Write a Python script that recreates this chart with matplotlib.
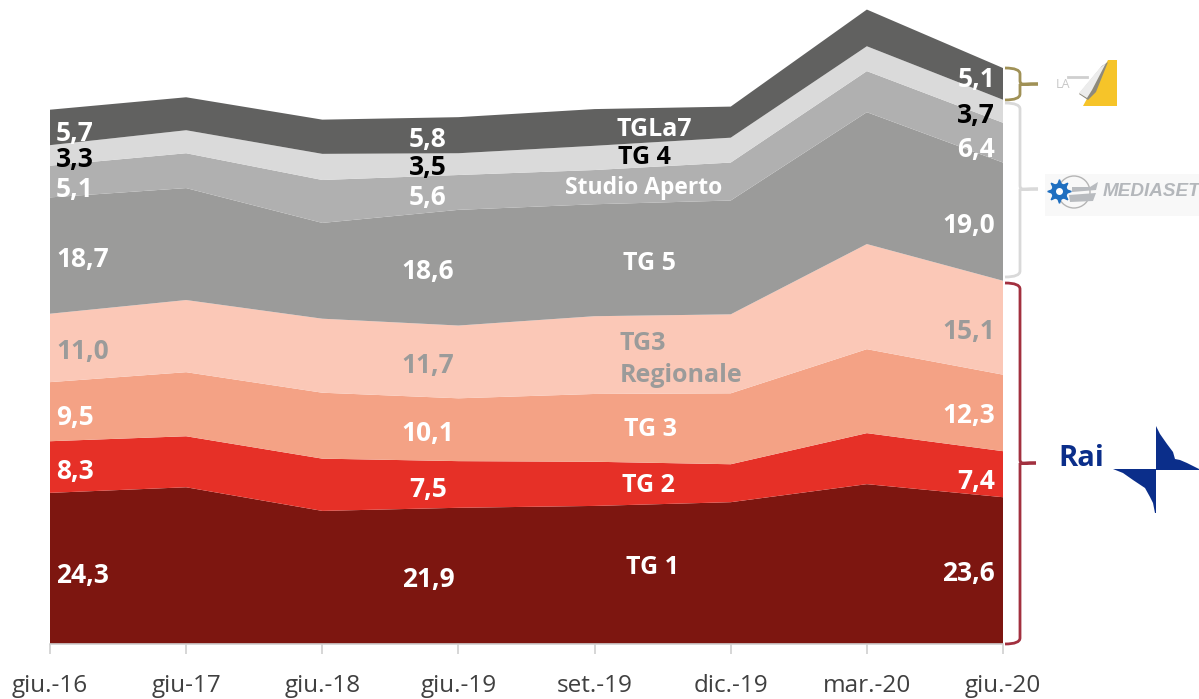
import matplotlib
matplotlib.use('Agg')
import matplotlib.pyplot as plt
from matplotlib.patches import Polygon, PathPatch, Circle, Rectangle
from matplotlib.path import Path

plt.rcParams['font.family'] = ['Open Sans', 'DejaVu Sans']

periodi = ['giu.-16', 'giu-17', 'giu.-18', 'giu.-19', 'set.-19', 'dic.-19', 'mar.-20', 'giu.-20']

tg1 = [24.3, 25.2, 21.4, 21.9, 22.2, 22.8, 25.7, 23.6]
tg2 = [8.3, 8.2, 8.4, 7.5, 7.1, 6.1, 8.2, 7.4]
tg3 = [9.5, 10.3, 10.6, 10.1, 10.9, 11.4, 13.5, 12.3]
tg3_reg = [11.0, 11.6, 11.9, 11.7, 12.5, 12.7, 16.9, 15.1]
tg5 = [18.7, 18.0, 15.4, 18.6, 18.0, 18.3, 21.2, 19.0]
studio_aperto = [5.1, 5.6, 6.9, 5.6, 5.5, 6.1, 6.6, 6.4]
tg4 = [3.3, 3.7, 4.2, 3.5, 3.9, 4.0, 4.0, 3.7]
tgla7 = [5.7, 5.3, 5.5, 5.8, 5.9, 5.0, 5.9, 5.1]

colori = ['#7d1610', '#e63027', '#f4a285', '#fbc8b7', '#9b9b9a', '#b0b0b0', '#dadada', '#616160']

W, H = 1199, 699
fig = plt.figure(figsize=(W / 100, H / 100), dpi=100)

# Area chart: the axes box is placed on the plot area of the picture
x0, x1, base = 50, 1003, 644
ax = fig.add_axes([x0 / W, (H - base) / H, (x1 - x0) / W, base / H])
ax.stackplot(range(len(periodi)), tg1, tg2, tg3, tg3_reg, tg5, studio_aperto, tg4, tgla7,
             colors=colori, linewidth=0)
ax.set_xlim(0, len(periodi) - 1)
ax.set_ylim(0, base / 6.22)
ax.patch.set_visible(False)
for s in ['top', 'left', 'right']:
    ax.spines[s].set_visible(False)
ax.spines['bottom'].set_color('#d0d0d0')
ax.spines['bottom'].set_linewidth(1.2)
ax.set_yticks([])
ax.set_xticks(range(len(periodi)))
ax.set_xticklabels(periodi, fontsize=17.5, color='#404040')
ax.tick_params(axis='x', length=7.5, width=1.2, color='#d0d0d0', pad=14)

# Overlay in pixel coordinates for labels, braces and logos
ov = fig.add_axes([0, 0, 1, 1])
ov.set_xlim(0, W)
ov.set_ylim(H, 0)
ov.axis('off')
ov.patch.set_visible(False)


def scritta(x, y, s, colore='white', ha='center', size=19):
    ov.text(x, y, s, color=colore, ha=ha, va='center', fontsize=size, fontweight='bold')


# Left column
for y, s, c in [(133, '5,7', 'white'), (160, '3,3', 'black'), (189, '5,1', 'white'),
                (259, '18,7', 'white'), (351, '11,0', '#9b9b9a'), (418, '9,5', 'white'),
                (472, '8,3', 'white'), (576, '24,3', 'white')]:
    scritta(56, y, s, c, ha='left')

# giu.-19 column
for y, s, c in [(139, '5,8', 'white'), (167, '3,5', 'black'), (197, '5,6', 'white'),
                (272, '18,6', 'white'), (365, '11,7', '#9b9b9a'), (433, '10,1', 'white'),
                (489, '7,5', 'white'), (580, '21,9', 'white')]:
    scritta(428, y, s, c)

# Right column
for y, s, c in [(79, '5,1', 'white'), (116, '3,7', 'black'), (149, '6,4', 'white'),
                (226, '19,0', 'white'), (332, '15,1', '#9b9b9a'), (416, '12,3', 'white'),
                (482, '7,4', 'white'), (574, '23,6', 'white')]:
    scritta(995, y, s, c, ha='right')

# Series names
scritta(654, 129, 'TGLa7', size=18)
scritta(644, 158, 'TG 4', 'black', size=18)
scritta(644, 188, 'Studio Aperto', size=16.5)
scritta(649, 264, 'TG 5', size=18)
scritta(620, 344, 'TG3', '#9b9b9a', ha='left', size=18)
scritta(620, 376, 'Regionale', '#9b9b9a', ha='left', size=18)
scritta(651, 430, 'TG 3', size=18)
scritta(648, 486, 'TG 2', size=18)
scritta(653, 568, 'TG 1', size=18)


def graffa(y_top, y_bot, y_tip, x_tip, colore):
    xl, xm, r = 1005, 1020, 6
    verts = [(xl, y_top), (xm, y_top), (xm, y_top + r),
             (xm, y_tip - 3), (xm, y_tip - 1), (xm + 2, y_tip), (x_tip, y_tip),
             (xm + 2, y_tip), (xm, y_tip + 1), (xm, y_tip + 3),
             (xm, y_bot - r), (xm, y_bot), (xl, y_bot)]
    codes = [Path.MOVETO, Path.CURVE3, Path.CURVE3,
             Path.LINETO, Path.CURVE3, Path.CURVE3, Path.LINETO,
             Path.CURVE3, Path.CURVE3, Path.LINETO,
             Path.LINETO, Path.CURVE3, Path.CURVE3]
    ov.add_patch(PathPatch(Path(verts, codes), fill=False, edgecolor=colore, linewidth=2))


graffa(68, 100, 84, 1038, '#a09156')
graffa(103, 277, 189, 1038, '#d9d9d9')
graffa(283, 644, 463, 1036, '#a2303f')

# La7 logo
ov.add_patch(Polygon([(1108, 60), (1117, 60), (1117, 106), (1083, 106)], color='#f6c429', lw=0))
ov.add_patch(Polygon([(1079, 94), (1102, 66), (1108, 62), (1096, 92), (1088, 100)], color='#8e8a7c', lw=0))
ov.add_patch(Polygon([(1079, 93), (1099, 69), (1106, 63), (1092, 90), (1087, 98)], color='#ececec', lw=0))
ov.text(1056, 85, 'LA', color='#c8c8c8', fontsize=9, va='center', ha='left')
ov.plot([1068, 1087], [77, 77], color='#cfcfcf', lw=2)

# Mediaset logo
ov.add_patch(Rectangle((1045, 174), 154, 42, color='#f8f8f8', lw=0))
ov.add_patch(Circle((1074, 192), 16, fill=False, edgecolor='#b5b5b5', lw=1))
ov.add_patch(Polygon([(1072, 187), (1090, 187), (1098, 182), (1096, 190), (1072, 192)], color='#b8bbbf', lw=0))
ov.add_patch(Polygon([(1069, 195), (1096, 193), (1093, 201), (1070, 202)], color='#b8bbbf', lw=0))
ov.plot([1059], [191], marker='o', markersize=11, color='#1f6fc0')
ov.plot([1059], [191], marker=(8, 1, 0), markersize=17, color='#1f6fc0')
ov.plot([1059], [191], marker='o', markersize=4, color='white')
ov.text(1103, 192, 'MEDIASET', color='#b4b7bb', fontsize=13.6, fontstyle='italic', fontweight='bold',
        va='center', ha='left', family='Liberation Sans')

# Rai logo
blu = '#0b2e8a'
ov.text(1058, 458, 'Rai', color=blu, fontsize=21, fontweight='bold', va='center', ha='left')
ov.add_patch(Polygon([(1156, 470), (1156, 426), (1160, 434), (1167, 444), (1173, 452), (1175, 459),
                      (1180, 460), (1187, 463), (1199, 469), (1199, 470)], color=blu, lw=0))
ov.add_patch(Polygon([(1156, 469), (1113, 469), (1123, 473), (1133, 480), (1145, 488), (1150, 497),
                      (1153, 503), (1155, 513), (1156, 513)], color=blu, lw=0))

fig.savefig('out.png', dpi=100)
